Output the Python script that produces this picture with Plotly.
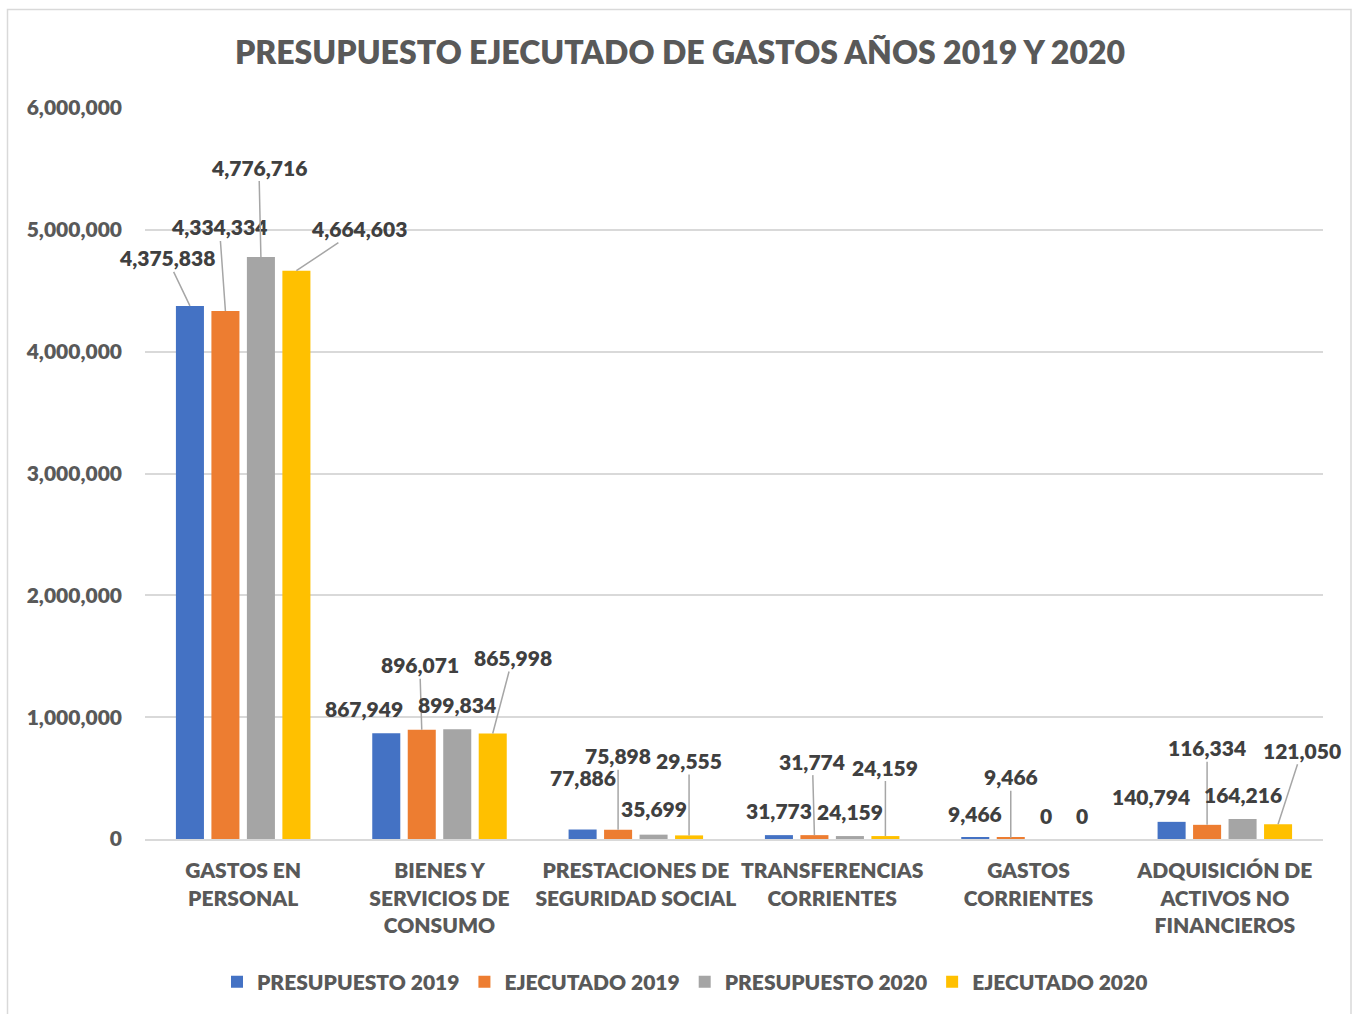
import plotly.graph_objects as go

# Spending categories (x axis) and the four series
categories = [
    "GASTOS EN<br>PERSONAL",
    "BIENES Y<br>SERVICIOS DE<br>CONSUMO",
    "PRESTACIONES DE<br>SEGURIDAD SOCIAL",
    "TRANSFERENCIAS<br>CORRIENTES",
    "GASTOS<br>CORRIENTES",
    "ADQUISICIÓN DE<br>ACTIVOS NO<br>FINANCIEROS",
]
series_names = ["PRESUPUESTO 2019", "EJECUTADO 2019", "PRESUPUESTO 2020", "EJECUTADO 2020"]
presupuesto_2019 = [4375838, 867949, 77886, 31773, 9466, 140794]
ejecutado_2019 = [4334334, 896071, 75898, 31774, 9466, 116334]
presupuesto_2020 = [4776716, 899834, 35699, 24159, 0, 164216]
ejecutado_2020 = [4664603, 865998, 29555, 24159, 0, 121050]
series_values = [presupuesto_2019, ejecutado_2019, presupuesto_2020, ejecutado_2020]
colors = ["#4472C4", "#ED7D31", "#A5A5A5", "#FFC000"]

# Label placement per (series, category): (leader_line, dx, dy) in pixels from the bar top
label_offsets = [
    [(True, -23, -48), (False, -22, 25), (False, 0, 52), (False, 0, 25), (False, 0, 24), (False, -21, 25)],
    [(True, -6, -84), (True, -2, -65), (True, 0, -74), (True, -2, -74), (True, 0, -61), (True, 0, -77)],
    [(True, -2, -90), (False, 0, 25), (False, 0, 26), (False, 0, 25), (False, 0, 24), (False, 0, 24)],
    [(True, 63, -42), (True, 20, -76), (True, 0, -75), (True, 0, -69), (False, 0, 24), (True, 24, -74)],
]

FONT = "Lato, 'Open Sans', sans-serif"
WEIGHT = 800
W, H = 1353, 1014
ML, MR, MT, MB = 145, 30, 108, 175
BARGAP = 0.277
n_series = len(series_names)
slot = (1 - BARGAP) / n_series

fig = go.Figure()
for name, vals, col in zip(series_names, series_values, colors):
    fig.add_trace(go.Bar(
        x=list(range(len(categories))), y=vals, name=name,
        marker=dict(color=col, line=dict(width=0)),
        hoverinfo="skip",
    ))

annotations = []
for s, vals in enumerate(series_values):
    for c, v in enumerate(vals):
        leader, dx, dy = label_offsets[s][c]
        xpos = c + (s - (n_series - 1) / 2) * slot
        a = dict(
            x=xpos, y=v, xref="x", yref="y",
            text=f"{v:,}",
            font=dict(family=FONT, size=21, color="#404040", weight=WEIGHT),
        )
        if leader:
            a.update(showarrow=True, ax=dx, ay=dy, arrowhead=0,
                     arrowwidth=1.5, arrowcolor="#A6A6A6", standoff=0)
        else:
            a.update(showarrow=False, xshift=dx, yshift=dy)
        annotations.append(a)

# outer chart frame
pw, ph = W - ML - MR, H - MT - MB
fx0 = (7.5 - ML) / pw
fx1 = (1351 - ML) / pw
fy1 = (H - MB - 9.5) / ph
fy0 = (H - MB - 1020) / ph

fig.update_layout(
    width=W, height=H,
    margin=dict(l=ML, r=MR, t=MT, b=MB),
    paper_bgcolor="white", plot_bgcolor="white",
    barmode="group", bargap=BARGAP, bargroupgap=0.21,
    title=dict(
        text="PRESUPUESTO EJECUTADO DE GASTOS AÑOS 2019 Y 2020",
        x=680 / W, xref="container", xanchor="center",
        y=1 - 53 / H, yref="container", yanchor="middle",
        font=dict(family=FONT, size=32, color="#595959", weight=WEIGHT),
    ),
    xaxis=dict(
        tickmode="array", tickvals=list(range(len(categories))), ticktext=categories,
        range=[-0.5, len(categories) - 0.5],
        showgrid=False, ticks="",
        showline=True, linecolor="#D9D9D9", linewidth=2, layer="above traces",
        tickfont=dict(family=FONT, size=21, color="#595959", weight=WEIGHT),
        ticklabelstandoff=12,
    ),
    yaxis=dict(
        range=[0, 6000000], dtick=1000000, tickformat=",",
        showgrid=True, gridcolor="#D9D9D9", gridwidth=1.5,
        zeroline=False,
        showline=False, ticks="",
        tickfont=dict(family=FONT, size=21, color="#595959", weight=WEIGHT),
        ticklabelstandoff=22,
    ),
    legend=dict(
        orientation="h", x=(685 - ML) / pw, xanchor="center",
        y=-(982 - (H - MB)) / ph, yanchor="middle",
        font=dict(family=FONT, size=21, color="#595959", weight=WEIGHT),
        itemclick=False, itemdoubleclick=False,
    ),
    annotations=annotations,
    shapes=[dict(type="rect", xref="paper", yref="paper",
                 x0=fx0, x1=fx1, y0=fy0, y1=fy1,
                 line=dict(color="#D9D9D9", width=1.5), layer="below")],
    showlegend=True,
)

fig.write_html("out.html")
